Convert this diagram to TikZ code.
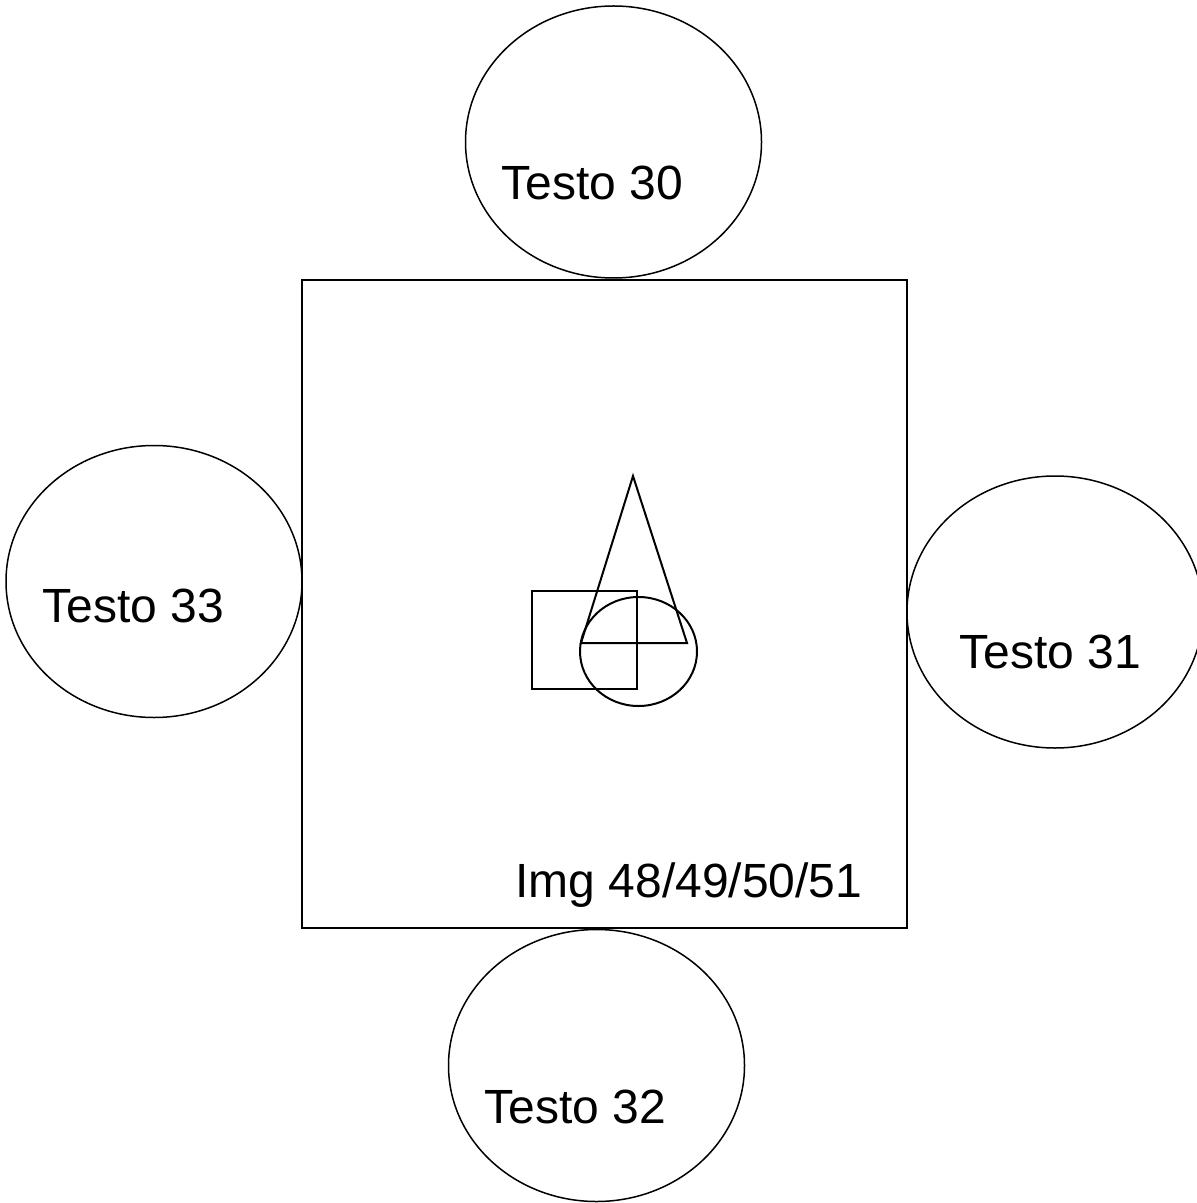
\documentclass[tikz,border=0pt]{standalone}
\usepackage{fontspec}
\setmainfont{Liberation Sans}
\usepackage{tikz}
\usetikzlibrary{positioning,shapes.geometric}

\begin{document}
\begin{tikzpicture}[
  x=0.5pt, y=-0.5pt,
  bubble/.style={draw, ellipse, line width=0.75pt, inner sep=0pt,
    minimum width=148pt, minimum height=136pt},
  frame/.style={draw, rectangle, line width=0.9pt, inner sep=0pt},
  part/.style={draw, line width=1pt, inner sep=0pt},
  caption/.style={anchor=base west, inner sep=0pt,
    font=\fontsize{24}{28}\selectfont}
]
\useasboundingbox (0,0) rectangle (1196,1203);
% outer frame
\node[frame, minimum width=302.5pt, minimum height=324pt] (img) at (604.5,604) {};
% bubbles round the frame
\node[bubble] (t30) at (613.5,142) {};
\node[bubble] (t33) at (154,581.5) {};
\node[bubble] (t31) at (1055,612) {};
\node[bubble] (t32) at (596.5,1065.5) {};
% texts
\node[caption] (l30) at (501,200) {Testo 30};
\node[caption] (l33) at (42,622) {Testo 33};
\node[caption] (l31) at (959,668) {Testo 31};
\node[caption] (l32) at (484,1123) {Testo 32};
\node[caption] (limg) at (515,897) {Img 48/49/50/51};
% shapes inside the frame
\node[part, rectangle, minimum width=52.5pt, minimum height=49pt] (sq) at (584.5,640) {};
\node[part, ellipse, minimum width=58.5pt, minimum height=54.5pt] (ci) at (638.5,651.5) {};
\coordinate (tip) at (633,476);
\coordinate (bl) at (581,643);
\coordinate (br) at (687,643);
\draw[line width=1pt, line join=miter] (tip) -- (br) -- (bl) -- cycle;
\end{tikzpicture}
\end{document}
